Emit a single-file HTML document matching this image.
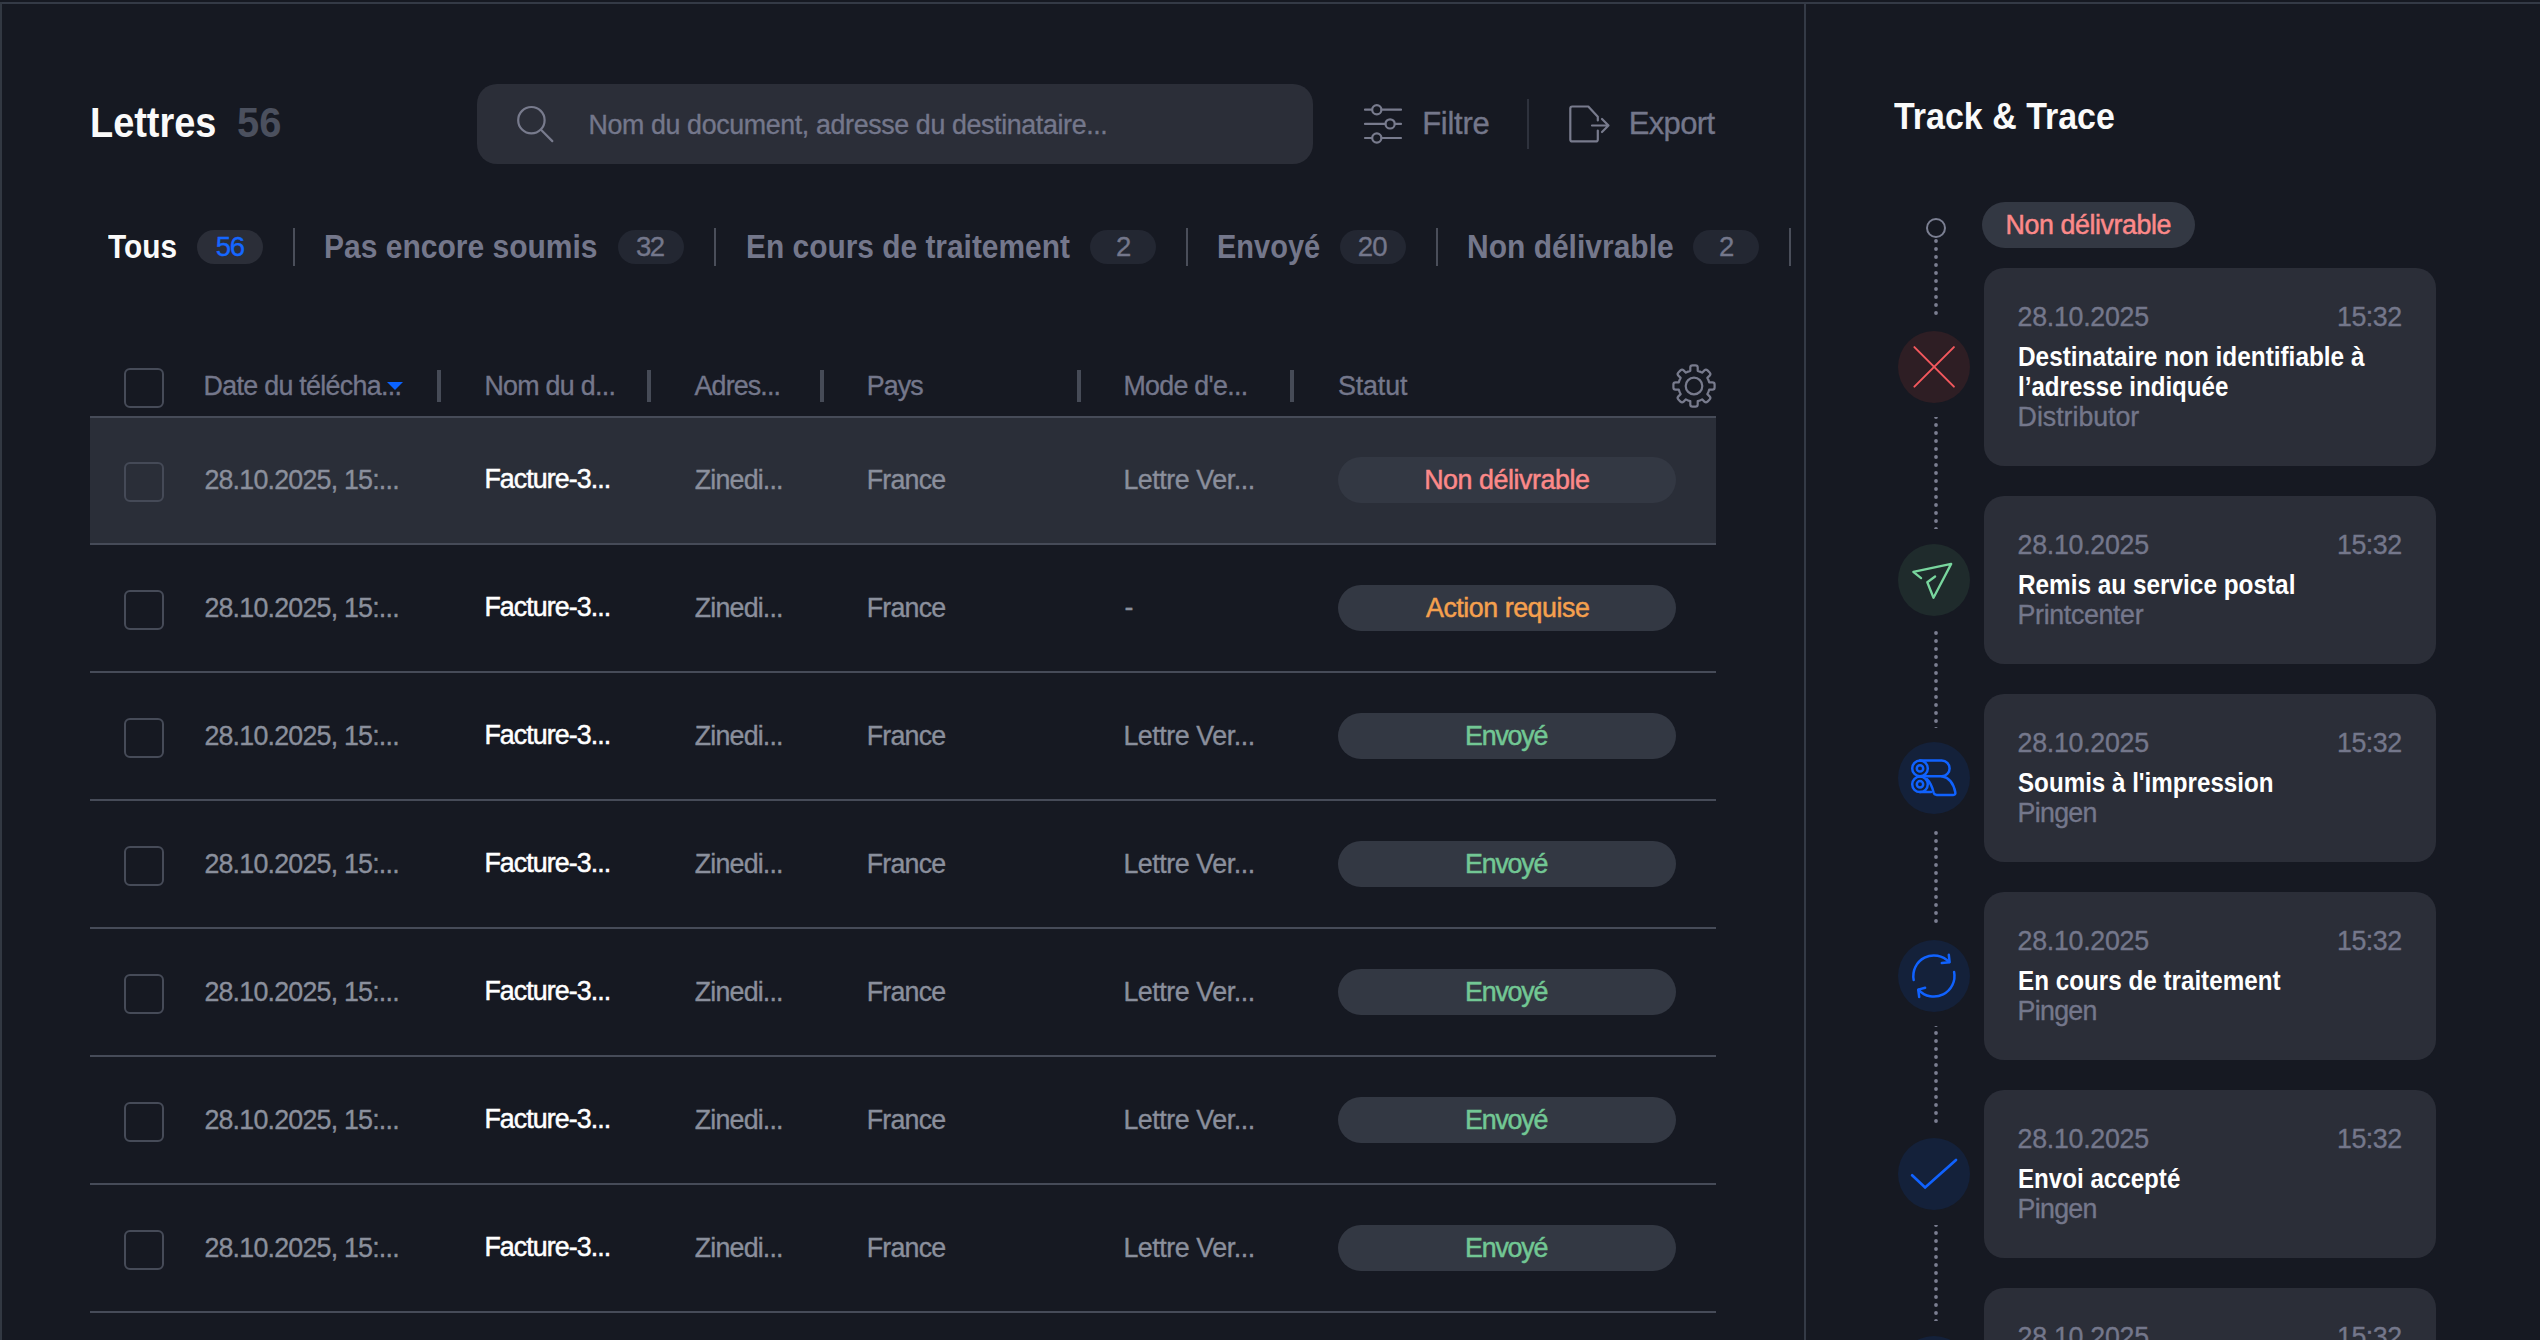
<!DOCTYPE html>
<html lang="fr">
<head>
<meta charset="utf-8">
<title>Lettres</title>
<style>
*{box-sizing:border-box;margin:0;padding:0}
html,body{width:2540px;height:1340px;overflow:hidden;background:#161922}
body{position:relative;font-family:"Liberation Sans",sans-serif;color:#fff}
.abs,.t{position:absolute}
.t{white-space:nowrap;line-height:1}
.badge{position:absolute;top:230px;width:66px;height:34px;border-radius:17px;background:#232732}
.tdiv{position:absolute;top:228px;width:2px;height:38px;background:#4a4e5a}
.cb{position:absolute;left:124px;width:40px;height:40px;border:2px solid #464b58;border-radius:6px}
.hdiv{position:absolute;top:370px;width:4px;height:32px;background:#464b57}
.row{position:absolute;left:90px;width:1626px;height:2px;background:#464b58}
.pill{position:absolute;left:1338px;width:338px;height:46px;border-radius:23px;background:#333843}
.card{position:absolute;left:1984px;width:452px;height:168px;border-radius:20px;background:#2b2e38}
.ic{position:absolute;left:1898px;width:72px;height:72px;border-radius:36px}
svg{overflow:visible}
</style>
</head>
<body>
<div class="abs" style="left:0;top:2px;width:2540px;height:2px;background:#343a46"></div>
<div class="abs" style="left:0;top:2px;width:2px;height:1338px;background:#323842"></div>
<div class="abs" style="left:1804px;top:4px;width:2px;height:1336px;background:#343a46"></div>

<!-- header -->
<div class="t" id="title" style="left:89.70px;top:102.39px;font-size:42.3px;color:#fafafa;transform:scaleX(0.8964);transform-origin:0 0;font-weight:700;">Lettres</div>
<div class="t" id="count" style="left:237.00px;top:102.39px;font-size:42.3px;color:#4b505e;transform:scaleX(0.9426);transform-origin:0 0;font-weight:700;">56</div>
<div class="abs" style="left:477px;top:84px;width:836px;height:80px;border-radius:20px;background:#2b2e38"></div>
<svg class="abs" style="left:510px;top:100px" width="50" height="50" viewBox="510 100 50 50" fill="none" stroke="#787b8d" stroke-width="2.2" stroke-linecap="round"><circle cx="531.4" cy="120.2" r="13.2"/><path d="M541 129.8L552.3 141.1"/></svg>
<div class="t" id="ph" style="left:588.40px;top:112.01px;font-size:26.8px;color:#74778b;letter-spacing:-0.366px;-webkit-text-stroke:0.35px currentColor;">Nom du document, adresse du destinataire...</div>
<svg class="abs" style="left:1360px;top:100px" width="50" height="50" viewBox="1360 100 50 50" fill="none" stroke="#787b8d" stroke-width="2.2" stroke-linecap="round"><path d="M1365 109.7H1372M1381.6 109.7H1401M1365 123.9H1385.3M1394.9 123.9H1401M1365 138H1372M1381.6 138H1401"/><circle cx="1376.8" cy="109.7" r="4.6"/><circle cx="1390.1" cy="123.9" r="4.6"/><circle cx="1376.8" cy="138" r="4.6"/></svg>
<div class="t" id="filtre" style="left:1422.20px;top:108.46px;font-size:31px;color:#74778b;letter-spacing:-0.280px;-webkit-text-stroke:0.35px currentColor;">Filtre</div>
<div class="abs" style="left:1527px;top:99px;width:2px;height:50px;background:#2e323d"></div>
<svg class="abs" style="left:1560px;top:100px" width="56" height="50" viewBox="1560 100 56 50" fill="none" stroke="#787b8d" stroke-width="2.2" stroke-linecap="round" stroke-linejoin="round"><path d="M1597.8 120.5V116.8L1588.3 106.5H1572.3a2 2 0 0 0-2 2V139.4a2 2 0 0 0 2 2H1595.8a2 2 0 0 0 2-2V130.5"/><path d="M1592 125.5H1608.5M1602 119L1608.5 125.5L1602 132"/></svg>
<div class="t" id="export" style="left:1628.80px;top:108.46px;font-size:31px;color:#74778b;letter-spacing:-0.680px;-webkit-text-stroke:0.35px currentColor;">Export</div>
<!-- tabs -->
<div class="t" id="tab1" style="left:108.20px;top:229.74px;font-size:33.5px;color:#fafafa;transform:scaleX(0.8895);transform-origin:0 0;font-weight:700;">Tous</div>
<div class="badge" style="left:197px;background:#2b2e38"></div>
<div class="tdiv" style="left:293px"></div>
<div class="t" id="tab2" style="left:324.00px;top:229.74px;font-size:33.5px;color:#74778b;transform:scaleX(0.8957);transform-origin:0 0;font-weight:700;">Pas encore soumis</div>
<div class="badge" style="left:618px"></div>
<div class="tdiv" style="left:714px"></div>
<div class="t" id="tab3" style="left:745.60px;top:229.74px;font-size:33.5px;color:#74778b;transform:scaleX(0.8923);transform-origin:0 0;font-weight:700;">En cours de traitement</div>
<div class="badge" style="left:1090px"></div>
<div class="tdiv" style="left:1186px"></div>
<div class="t" id="tab4" style="left:1217.20px;top:229.74px;font-size:33.5px;color:#74778b;transform:scaleX(0.8656);transform-origin:0 0;font-weight:700;">Envoyé</div>
<div class="badge" style="left:1340px"></div>
<div class="tdiv" style="left:1436px"></div>
<div class="t" id="tab5" style="left:1466.80px;top:229.74px;font-size:33.5px;color:#74778b;transform:scaleX(0.8952);transform-origin:0 0;font-weight:700;">Non délivrable</div>
<div class="badge" style="left:1693px"></div>
<div class="tdiv" style="left:1789px"></div>
<div class="t" id="b1" style="left:215.80px;top:233.44px;font-size:27.6px;color:#1567ff;letter-spacing:-1.500px;-webkit-text-stroke:0.35px currentColor;">56</div>
<div class="t" id="b2" style="left:636.00px;top:233.44px;font-size:27.6px;color:#74778b;letter-spacing:-1.600px;-webkit-text-stroke:0.35px currentColor;">32</div>
<div class="t" id="b3" style="left:1116.00px;top:233.44px;font-size:27.6px;color:#74778b;-webkit-text-stroke:0.35px currentColor;">2</div>
<div class="t" id="b4" style="left:1357.80px;top:233.44px;font-size:27.6px;color:#74778b;letter-spacing:-0.800px;-webkit-text-stroke:0.35px currentColor;">20</div>
<div class="t" id="b5" style="left:1719.00px;top:233.44px;font-size:27.6px;color:#74778b;-webkit-text-stroke:0.35px currentColor;">2</div>
<!-- table header -->
<div class="cb" style="top:368px"></div>
<div class="t" id="th1" style="left:203.60px;top:373.31px;font-size:26.8px;color:#74778b;letter-spacing:-0.693px;-webkit-text-stroke:0.35px currentColor;">Date du télécha...</div>
<svg class="abs" style="left:387px;top:382px" width="16" height="8" viewBox="0 0 16 8"><path d="M0 0H16L8 8Z" fill="#0b63ff"/></svg>
<div class="hdiv" style="left:437px"></div>
<div class="hdiv" style="left:647px"></div>
<div class="hdiv" style="left:820px"></div>
<div class="hdiv" style="left:1077px"></div>
<div class="hdiv" style="left:1290px"></div>
<div class="t" id="th2" style="left:484.40px;top:373.31px;font-size:26.8px;color:#74778b;letter-spacing:-0.700px;-webkit-text-stroke:0.35px currentColor;">Nom du d...</div>
<div class="t" id="th3" style="left:694.60px;top:373.31px;font-size:26.8px;color:#74778b;letter-spacing:-0.858px;-webkit-text-stroke:0.35px currentColor;">Adres...</div>
<div class="t" id="th4" style="left:866.80px;top:373.31px;font-size:26.8px;color:#74778b;letter-spacing:-0.933px;-webkit-text-stroke:0.35px currentColor;">Pays</div>
<div class="t" id="th5" style="left:1123.40px;top:373.31px;font-size:26.8px;color:#74778b;letter-spacing:-0.700px;-webkit-text-stroke:0.35px currentColor;">Mode d'e...</div>
<div class="t" id="th6" style="left:1338.00px;top:373.31px;font-size:26.8px;color:#74778b;letter-spacing:-0.120px;-webkit-text-stroke:0.35px currentColor;">Statut</div>
<svg class="abs" style="left:1668px;top:360px" width="52" height="52" viewBox="1668 360 52 52" fill="none" stroke="#787b8d" stroke-width="2.2" stroke-linejoin="round"><circle cx="1694" cy="386" r="8.3"/><path d="M1690.30 370.85L1690.30 367.60Q1690.30 365.40 1692.50 365.40L1695.50 365.40Q1697.70 365.40 1697.70 367.60L1697.70 370.85A15.6 15.6 0 0 1 1702.10 372.67L1704.39 370.37Q1705.95 368.82 1707.51 370.37L1709.63 372.49Q1711.18 374.05 1709.63 375.61L1707.33 377.90A15.6 15.6 0 0 1 1709.15 382.30L1712.40 382.30Q1714.60 382.30 1714.60 384.50L1714.60 387.50Q1714.60 389.70 1712.40 389.70L1709.15 389.70A15.6 15.6 0 0 1 1707.33 394.10L1709.63 396.39Q1711.18 397.95 1709.63 399.51L1707.51 401.63Q1705.95 403.18 1704.39 401.63L1702.10 399.33A15.6 15.6 0 0 1 1697.70 401.15L1697.70 404.40Q1697.70 406.60 1695.50 406.60L1692.50 406.60Q1690.30 406.60 1690.30 404.40L1690.30 401.15A15.6 15.6 0 0 1 1685.90 399.33L1683.61 401.63Q1682.05 403.18 1680.49 401.63L1678.37 399.51Q1676.82 397.95 1678.37 396.39L1680.67 394.10A15.6 15.6 0 0 1 1678.85 389.70L1675.60 389.70Q1673.40 389.70 1673.40 387.50L1673.40 384.50Q1673.40 382.30 1675.60 382.30L1678.85 382.30A15.6 15.6 0 0 1 1680.67 377.90L1678.37 375.61Q1676.82 374.05 1678.37 372.49L1680.49 370.37Q1682.05 368.82 1683.61 370.37L1685.90 372.67A15.6 15.6 0 0 1 1690.30 370.85Z"/></svg>
<!-- rows -->
<div class="abs" style="left:90px;top:416px;width:1626px;height:129px;background:#2a2e38;border-top:2px solid #464b58;border-bottom:2px solid #464b58"></div>
<div class="cb" style="top:462px;border-color:#454a57"></div>
<div class="t" id="c_date_0" style="left:204.40px;top:467.31px;font-size:26.8px;color:#8a8f9c;letter-spacing:-0.787px;-webkit-text-stroke:0.35px currentColor;">28.10.2025, 15:...</div>
<div class="t" id="c_fact_0" style="left:484.40px;top:466.31px;font-size:26.8px;color:#fff;letter-spacing:-0.926px;-webkit-text-stroke:0.5px currentColor;">Facture-3...</div>
<div class="t" id="c_zin_0" style="left:694.80px;top:467.31px;font-size:26.8px;color:#8a8f9c;letter-spacing:-0.825px;-webkit-text-stroke:0.35px currentColor;">Zinedi...</div>
<div class="t" id="c_fr_0" style="left:866.80px;top:467.31px;font-size:26.8px;color:#8a8f9c;letter-spacing:-0.800px;-webkit-text-stroke:0.35px currentColor;">France</div>
<div class="t" id="c_let_0" style="left:1123.40px;top:467.31px;font-size:26.8px;color:#8a8f9c;letter-spacing:-0.434px;-webkit-text-stroke:0.35px currentColor;">Lettre Ver...</div>
<div class="pill" style="top:457px"></div>
<div class="t" id="p_red_0" style="left:1424.20px;top:467.31px;font-size:26.8px;color:#fc8989;letter-spacing:-0.431px;-webkit-text-stroke:0.5px currentColor;">Non délivrable</div>
<div class="row" style="top:671px"></div>
<div class="cb" style="top:590px;border-color:#464b58"></div>
<div class="t" id="c_date_1" style="left:204.40px;top:595.31px;font-size:26.8px;color:#8a8f9c;letter-spacing:-0.787px;-webkit-text-stroke:0.35px currentColor;">28.10.2025, 15:...</div>
<div class="t" id="c_fact_1" style="left:484.40px;top:594.31px;font-size:26.8px;color:#fff;letter-spacing:-0.926px;-webkit-text-stroke:0.5px currentColor;">Facture-3...</div>
<div class="t" id="c_zin_1" style="left:694.80px;top:595.31px;font-size:26.8px;color:#8a8f9c;letter-spacing:-0.825px;-webkit-text-stroke:0.35px currentColor;">Zinedi...</div>
<div class="t" id="c_fr_1" style="left:866.80px;top:595.31px;font-size:26.8px;color:#8a8f9c;letter-spacing:-0.800px;-webkit-text-stroke:0.35px currentColor;">France</div>
<div class="t" id="c_dash_1" style="left:1124.40px;top:594.31px;font-size:26.8px;color:#8a8f9c;-webkit-text-stroke:0.35px currentColor;">-</div>
<div class="pill" style="top:585px"></div>
<div class="t" id="p_or_1" style="left:1426.00px;top:595.31px;font-size:26.8px;color:#f5a04e;letter-spacing:-0.462px;-webkit-text-stroke:0.5px currentColor;">Action requise</div>
<div class="row" style="top:799px"></div>
<div class="cb" style="top:718px;border-color:#464b58"></div>
<div class="t" id="c_date_2" style="left:204.40px;top:723.31px;font-size:26.8px;color:#8a8f9c;letter-spacing:-0.787px;-webkit-text-stroke:0.35px currentColor;">28.10.2025, 15:...</div>
<div class="t" id="c_fact_2" style="left:484.40px;top:722.31px;font-size:26.8px;color:#fff;letter-spacing:-0.926px;-webkit-text-stroke:0.5px currentColor;">Facture-3...</div>
<div class="t" id="c_zin_2" style="left:694.80px;top:723.31px;font-size:26.8px;color:#8a8f9c;letter-spacing:-0.825px;-webkit-text-stroke:0.35px currentColor;">Zinedi...</div>
<div class="t" id="c_fr_2" style="left:866.80px;top:723.31px;font-size:26.8px;color:#8a8f9c;letter-spacing:-0.800px;-webkit-text-stroke:0.35px currentColor;">France</div>
<div class="t" id="c_let_2" style="left:1123.40px;top:723.31px;font-size:26.8px;color:#8a8f9c;letter-spacing:-0.434px;-webkit-text-stroke:0.35px currentColor;">Lettre Ver...</div>
<div class="pill" style="top:713px"></div>
<div class="t" id="p_gr_2" style="left:1465.00px;top:723.31px;font-size:26.8px;color:#72c794;letter-spacing:-1.200px;-webkit-text-stroke:0.5px currentColor;">Envoyé</div>
<div class="row" style="top:927px"></div>
<div class="cb" style="top:846px;border-color:#464b58"></div>
<div class="t" id="c_date_3" style="left:204.40px;top:851.31px;font-size:26.8px;color:#8a8f9c;letter-spacing:-0.787px;-webkit-text-stroke:0.35px currentColor;">28.10.2025, 15:...</div>
<div class="t" id="c_fact_3" style="left:484.40px;top:850.31px;font-size:26.8px;color:#fff;letter-spacing:-0.926px;-webkit-text-stroke:0.5px currentColor;">Facture-3...</div>
<div class="t" id="c_zin_3" style="left:694.80px;top:851.31px;font-size:26.8px;color:#8a8f9c;letter-spacing:-0.825px;-webkit-text-stroke:0.35px currentColor;">Zinedi...</div>
<div class="t" id="c_fr_3" style="left:866.80px;top:851.31px;font-size:26.8px;color:#8a8f9c;letter-spacing:-0.800px;-webkit-text-stroke:0.35px currentColor;">France</div>
<div class="t" id="c_let_3" style="left:1123.40px;top:851.31px;font-size:26.8px;color:#8a8f9c;letter-spacing:-0.434px;-webkit-text-stroke:0.35px currentColor;">Lettre Ver...</div>
<div class="pill" style="top:841px"></div>
<div class="t" id="p_gr_3" style="left:1465.00px;top:851.31px;font-size:26.8px;color:#72c794;letter-spacing:-1.200px;-webkit-text-stroke:0.5px currentColor;">Envoyé</div>
<div class="row" style="top:1055px"></div>
<div class="cb" style="top:974px;border-color:#464b58"></div>
<div class="t" id="c_date_4" style="left:204.40px;top:979.31px;font-size:26.8px;color:#8a8f9c;letter-spacing:-0.787px;-webkit-text-stroke:0.35px currentColor;">28.10.2025, 15:...</div>
<div class="t" id="c_fact_4" style="left:484.40px;top:978.31px;font-size:26.8px;color:#fff;letter-spacing:-0.926px;-webkit-text-stroke:0.5px currentColor;">Facture-3...</div>
<div class="t" id="c_zin_4" style="left:694.80px;top:979.31px;font-size:26.8px;color:#8a8f9c;letter-spacing:-0.825px;-webkit-text-stroke:0.35px currentColor;">Zinedi...</div>
<div class="t" id="c_fr_4" style="left:866.80px;top:979.31px;font-size:26.8px;color:#8a8f9c;letter-spacing:-0.800px;-webkit-text-stroke:0.35px currentColor;">France</div>
<div class="t" id="c_let_4" style="left:1123.40px;top:979.31px;font-size:26.8px;color:#8a8f9c;letter-spacing:-0.434px;-webkit-text-stroke:0.35px currentColor;">Lettre Ver...</div>
<div class="pill" style="top:969px"></div>
<div class="t" id="p_gr_4" style="left:1465.00px;top:979.31px;font-size:26.8px;color:#72c794;letter-spacing:-1.200px;-webkit-text-stroke:0.5px currentColor;">Envoyé</div>
<div class="row" style="top:1183px"></div>
<div class="cb" style="top:1102px;border-color:#464b58"></div>
<div class="t" id="c_date_5" style="left:204.40px;top:1107.31px;font-size:26.8px;color:#8a8f9c;letter-spacing:-0.787px;-webkit-text-stroke:0.35px currentColor;">28.10.2025, 15:...</div>
<div class="t" id="c_fact_5" style="left:484.40px;top:1106.31px;font-size:26.8px;color:#fff;letter-spacing:-0.926px;-webkit-text-stroke:0.5px currentColor;">Facture-3...</div>
<div class="t" id="c_zin_5" style="left:694.80px;top:1107.31px;font-size:26.8px;color:#8a8f9c;letter-spacing:-0.825px;-webkit-text-stroke:0.35px currentColor;">Zinedi...</div>
<div class="t" id="c_fr_5" style="left:866.80px;top:1107.31px;font-size:26.8px;color:#8a8f9c;letter-spacing:-0.800px;-webkit-text-stroke:0.35px currentColor;">France</div>
<div class="t" id="c_let_5" style="left:1123.40px;top:1107.31px;font-size:26.8px;color:#8a8f9c;letter-spacing:-0.434px;-webkit-text-stroke:0.35px currentColor;">Lettre Ver...</div>
<div class="pill" style="top:1097px"></div>
<div class="t" id="p_gr_5" style="left:1465.00px;top:1107.31px;font-size:26.8px;color:#72c794;letter-spacing:-1.200px;-webkit-text-stroke:0.5px currentColor;">Envoyé</div>
<div class="row" style="top:1311px"></div>
<div class="cb" style="top:1230px;border-color:#464b58"></div>
<div class="t" id="c_date_6" style="left:204.40px;top:1235.31px;font-size:26.8px;color:#8a8f9c;letter-spacing:-0.787px;-webkit-text-stroke:0.35px currentColor;">28.10.2025, 15:...</div>
<div class="t" id="c_fact_6" style="left:484.40px;top:1234.31px;font-size:26.8px;color:#fff;letter-spacing:-0.926px;-webkit-text-stroke:0.5px currentColor;">Facture-3...</div>
<div class="t" id="c_zin_6" style="left:694.80px;top:1235.31px;font-size:26.8px;color:#8a8f9c;letter-spacing:-0.825px;-webkit-text-stroke:0.35px currentColor;">Zinedi...</div>
<div class="t" id="c_fr_6" style="left:866.80px;top:1235.31px;font-size:26.8px;color:#8a8f9c;letter-spacing:-0.800px;-webkit-text-stroke:0.35px currentColor;">France</div>
<div class="t" id="c_let_6" style="left:1123.40px;top:1235.31px;font-size:26.8px;color:#8a8f9c;letter-spacing:-0.434px;-webkit-text-stroke:0.35px currentColor;">Lettre Ver...</div>
<div class="pill" style="top:1225px"></div>
<div class="t" id="p_gr_6" style="left:1465.00px;top:1235.31px;font-size:26.8px;color:#72c794;letter-spacing:-1.200px;-webkit-text-stroke:0.5px currentColor;">Envoyé</div>
<!-- side panel -->
<div class="t" id="tt" style="left:1894.40px;top:98.07px;font-size:37.6px;color:#fafafa;transform:scaleX(0.9037);transform-origin:0 0;font-weight:700;">Track &amp; Trace</div>
<div class="abs" style="left:1926px;top:218px;width:20px;height:20px;border-radius:10px;border:2px solid #7b7f92"></div>
<div class="abs" style="left:1982px;top:202px;width:213px;height:46px;border-radius:23px;background:#333843"></div>
<div class="t" id="ndp" style="left:2005.60px;top:211.51px;font-size:26.8px;color:#fc8989;letter-spacing:-0.416px;-webkit-text-stroke:0.5px currentColor;">Non délivrable</div>
<svg class="abs" style="left:1930px;top:238px" width="12" height="78" viewBox="1930 238 12 78"><circle cx="1936" cy="241" r="1.9" fill="#7b7e91"/><circle cx="1936" cy="249" r="1.9" fill="#7b7e91"/><circle cx="1936" cy="257" r="1.9" fill="#7b7e91"/><circle cx="1936" cy="265" r="1.9" fill="#7b7e91"/><circle cx="1936" cy="273" r="1.9" fill="#7b7e91"/><circle cx="1936" cy="281" r="1.9" fill="#7b7e91"/><circle cx="1936" cy="289" r="1.9" fill="#7b7e91"/><circle cx="1936" cy="297" r="1.9" fill="#7b7e91"/><circle cx="1936" cy="305" r="1.9" fill="#7b7e91"/><circle cx="1936" cy="313" r="1.9" fill="#7b7e91"/></svg>
<svg class="abs" style="left:1930px;top:417px;overflow:hidden" width="12" height="112" viewBox="1930 417 12 112"><circle cx="1936" cy="417" r="1.9" fill="#7b7e91"/><circle cx="1936" cy="425" r="1.9" fill="#7b7e91"/><circle cx="1936" cy="433" r="1.9" fill="#7b7e91"/><circle cx="1936" cy="441" r="1.9" fill="#7b7e91"/><circle cx="1936" cy="449" r="1.9" fill="#7b7e91"/><circle cx="1936" cy="457" r="1.9" fill="#7b7e91"/><circle cx="1936" cy="465" r="1.9" fill="#7b7e91"/><circle cx="1936" cy="473" r="1.9" fill="#7b7e91"/><circle cx="1936" cy="481" r="1.9" fill="#7b7e91"/><circle cx="1936" cy="489" r="1.9" fill="#7b7e91"/><circle cx="1936" cy="497" r="1.9" fill="#7b7e91"/><circle cx="1936" cy="505" r="1.9" fill="#7b7e91"/><circle cx="1936" cy="513" r="1.9" fill="#7b7e91"/><circle cx="1936" cy="521" r="1.9" fill="#7b7e91"/><circle cx="1936" cy="529" r="1.9" fill="#7b7e91"/></svg>
<svg class="abs" style="left:1930px;top:630px;overflow:hidden" width="12" height="98" viewBox="1930 630 12 98"><circle cx="1936" cy="633" r="1.9" fill="#7b7e91"/><circle cx="1936" cy="641" r="1.9" fill="#7b7e91"/><circle cx="1936" cy="649" r="1.9" fill="#7b7e91"/><circle cx="1936" cy="657" r="1.9" fill="#7b7e91"/><circle cx="1936" cy="665" r="1.9" fill="#7b7e91"/><circle cx="1936" cy="673" r="1.9" fill="#7b7e91"/><circle cx="1936" cy="681" r="1.9" fill="#7b7e91"/><circle cx="1936" cy="689" r="1.9" fill="#7b7e91"/><circle cx="1936" cy="697" r="1.9" fill="#7b7e91"/><circle cx="1936" cy="705" r="1.9" fill="#7b7e91"/><circle cx="1936" cy="713" r="1.9" fill="#7b7e91"/><circle cx="1936" cy="721" r="1.9" fill="#7b7e91"/><circle cx="1936" cy="729" r="1.9" fill="#7b7e91"/></svg>
<svg class="abs" style="left:1930px;top:830px" width="12" height="94" viewBox="1930 830 12 94"><circle cx="1936" cy="833" r="1.9" fill="#7b7e91"/><circle cx="1936" cy="841" r="1.9" fill="#7b7e91"/><circle cx="1936" cy="849" r="1.9" fill="#7b7e91"/><circle cx="1936" cy="857" r="1.9" fill="#7b7e91"/><circle cx="1936" cy="865" r="1.9" fill="#7b7e91"/><circle cx="1936" cy="873" r="1.9" fill="#7b7e91"/><circle cx="1936" cy="881" r="1.9" fill="#7b7e91"/><circle cx="1936" cy="889" r="1.9" fill="#7b7e91"/><circle cx="1936" cy="897" r="1.9" fill="#7b7e91"/><circle cx="1936" cy="905" r="1.9" fill="#7b7e91"/><circle cx="1936" cy="913" r="1.9" fill="#7b7e91"/><circle cx="1936" cy="921" r="1.9" fill="#7b7e91"/></svg>
<svg class="abs" style="left:1930px;top:1026px;overflow:hidden" width="12" height="99" viewBox="1930 1026 12 99"><circle cx="1936" cy="1025" r="1.9" fill="#7b7e91"/><circle cx="1936" cy="1033" r="1.9" fill="#7b7e91"/><circle cx="1936" cy="1041" r="1.9" fill="#7b7e91"/><circle cx="1936" cy="1049" r="1.9" fill="#7b7e91"/><circle cx="1936" cy="1057" r="1.9" fill="#7b7e91"/><circle cx="1936" cy="1065" r="1.9" fill="#7b7e91"/><circle cx="1936" cy="1073" r="1.9" fill="#7b7e91"/><circle cx="1936" cy="1081" r="1.9" fill="#7b7e91"/><circle cx="1936" cy="1089" r="1.9" fill="#7b7e91"/><circle cx="1936" cy="1097" r="1.9" fill="#7b7e91"/><circle cx="1936" cy="1105" r="1.9" fill="#7b7e91"/><circle cx="1936" cy="1113" r="1.9" fill="#7b7e91"/><circle cx="1936" cy="1121" r="1.9" fill="#7b7e91"/></svg>
<svg class="abs" style="left:1930px;top:1225px;overflow:hidden" width="12" height="96" viewBox="1930 1225 12 96"><circle cx="1936" cy="1225" r="1.9" fill="#7b7e91"/><circle cx="1936" cy="1233" r="1.9" fill="#7b7e91"/><circle cx="1936" cy="1241" r="1.9" fill="#7b7e91"/><circle cx="1936" cy="1249" r="1.9" fill="#7b7e91"/><circle cx="1936" cy="1257" r="1.9" fill="#7b7e91"/><circle cx="1936" cy="1265" r="1.9" fill="#7b7e91"/><circle cx="1936" cy="1273" r="1.9" fill="#7b7e91"/><circle cx="1936" cy="1281" r="1.9" fill="#7b7e91"/><circle cx="1936" cy="1289" r="1.9" fill="#7b7e91"/><circle cx="1936" cy="1297" r="1.9" fill="#7b7e91"/><circle cx="1936" cy="1305" r="1.9" fill="#7b7e91"/><circle cx="1936" cy="1313" r="1.9" fill="#7b7e91"/><circle cx="1936" cy="1321" r="1.9" fill="#7b7e91"/></svg>
<div class="card" style="top:268px;height:198px"></div>
<div class="t" id="k_date_0" style="left:2017.60px;top:304.01px;font-size:26.8px;color:#74778b;letter-spacing:-0.289px;-webkit-text-stroke:0.35px currentColor;">28.10.2025</div>
<div class="t" id="k_time_0" style="left:2337.00px;top:304.01px;font-size:26.8px;color:#74778b;letter-spacing:-0.500px;-webkit-text-stroke:0.35px currentColor;">15:32</div>
<div class="t" id="k_t1_0" style="left:2017.60px;top:343.71px;font-size:26.8px;color:#fff;transform:scaleX(0.9088);transform-origin:0 0;font-weight:700;">Destinataire non identifiable à</div>
<div class="t" id="k_t2_0" style="left:2017.60px;top:374.31px;font-size:26.8px;color:#fff;transform:scaleX(0.8996);transform-origin:0 0;font-weight:700;">l’adresse indiquée</div>
<div class="t" id="k_s1_0" style="left:2017.60px;top:404.31px;font-size:26.8px;color:#74778b;letter-spacing:-0.040px;-webkit-text-stroke:0.35px currentColor;">Distributor</div>
<div class="card" style="top:496px;height:168px"></div>
<div class="t" id="k_date_1" style="left:2017.60px;top:532.01px;font-size:26.8px;color:#74778b;letter-spacing:-0.289px;-webkit-text-stroke:0.35px currentColor;">28.10.2025</div>
<div class="t" id="k_time_1" style="left:2337.00px;top:532.01px;font-size:26.8px;color:#74778b;letter-spacing:-0.500px;-webkit-text-stroke:0.35px currentColor;">15:32</div>
<div class="t" id="k_t_remis_1" style="left:2017.60px;top:571.71px;font-size:26.8px;color:#fff;transform:scaleX(0.9085);transform-origin:0 0;font-weight:700;">Remis au service postal</div>
<div class="t" id="k_s_print_1" style="left:2017.60px;top:602.31px;font-size:26.8px;color:#74778b;letter-spacing:-0.360px;-webkit-text-stroke:0.35px currentColor;">Printcenter</div>
<div class="card" style="top:694px;height:168px"></div>
<div class="t" id="k_date_2" style="left:2017.60px;top:730.01px;font-size:26.8px;color:#74778b;letter-spacing:-0.289px;-webkit-text-stroke:0.35px currentColor;">28.10.2025</div>
<div class="t" id="k_time_2" style="left:2337.00px;top:730.01px;font-size:26.8px;color:#74778b;letter-spacing:-0.500px;-webkit-text-stroke:0.35px currentColor;">15:32</div>
<div class="t" id="k_t_soumis_2" style="left:2017.60px;top:769.71px;font-size:26.8px;color:#fff;transform:scaleX(0.9018);transform-origin:0 0;font-weight:700;">Soumis à l'impression</div>
<div class="t" id="k_s_pingen_2" style="left:2017.60px;top:800.31px;font-size:26.8px;color:#74778b;letter-spacing:-0.720px;-webkit-text-stroke:0.35px currentColor;">Pingen</div>
<div class="card" style="top:892px;height:168px"></div>
<div class="t" id="k_date_3" style="left:2017.60px;top:928.01px;font-size:26.8px;color:#74778b;letter-spacing:-0.289px;-webkit-text-stroke:0.35px currentColor;">28.10.2025</div>
<div class="t" id="k_time_3" style="left:2337.00px;top:928.01px;font-size:26.8px;color:#74778b;letter-spacing:-0.500px;-webkit-text-stroke:0.35px currentColor;">15:32</div>
<div class="t" id="k_t_encours_3" style="left:2017.60px;top:967.71px;font-size:26.8px;color:#fff;transform:scaleX(0.9042);transform-origin:0 0;font-weight:700;">En cours de traitement</div>
<div class="t" id="k_s_pingen_3" style="left:2017.60px;top:998.31px;font-size:26.8px;color:#74778b;letter-spacing:-0.720px;-webkit-text-stroke:0.35px currentColor;">Pingen</div>
<div class="card" style="top:1090px;height:168px"></div>
<div class="t" id="k_date_4" style="left:2017.60px;top:1126.01px;font-size:26.8px;color:#74778b;letter-spacing:-0.289px;-webkit-text-stroke:0.35px currentColor;">28.10.2025</div>
<div class="t" id="k_time_4" style="left:2337.00px;top:1126.01px;font-size:26.8px;color:#74778b;letter-spacing:-0.500px;-webkit-text-stroke:0.35px currentColor;">15:32</div>
<div class="t" id="k_t_envoi_4" style="left:2017.60px;top:1165.71px;font-size:26.8px;color:#fff;transform:scaleX(0.9007);transform-origin:0 0;font-weight:700;">Envoi accepté</div>
<div class="t" id="k_s_pingen_4" style="left:2017.60px;top:1196.31px;font-size:26.8px;color:#74778b;letter-spacing:-0.720px;-webkit-text-stroke:0.35px currentColor;">Pingen</div>
<div class="card" style="top:1288px;height:168px"></div>
<div class="t" id="k_date_5" style="left:2017.60px;top:1324.01px;font-size:26.8px;color:#74778b;letter-spacing:-0.289px;-webkit-text-stroke:0.35px currentColor;">28.10.2025</div>
<div class="t" id="k_time_5" style="left:2337.00px;top:1324.01px;font-size:26.8px;color:#74778b;letter-spacing:-0.500px;-webkit-text-stroke:0.35px currentColor;">15:32</div>
<div class="t" id="k_t_tele_5" style="left:2018.90px;top:1363.71px;font-size:26.8px;color:#fff;font-weight:700;">Téléversé</div>
<div class="t" id="k_s_pingen_5" style="left:2017.60px;top:1394.31px;font-size:26.8px;color:#74778b;letter-spacing:-0.720px;-webkit-text-stroke:0.35px currentColor;">Pingen</div>
<div class="ic" style="top:331px;background:#2e1e24"></div>
<svg class="abs" style="left:1898px;top:331px" width="72" height="72" viewBox="1898 331 72 72" fill="none" stroke="#f4585d" stroke-width="2" stroke-linecap="round"><path d="M1914.4 347.1L1953.9 386.6M1953.9 347.1L1914.4 386.6"/></svg>
<div class="ic" style="top:544px;background:#1f2b2c"></div>
<svg class="abs" style="left:1898px;top:544px" width="72" height="72" viewBox="1898 544 72 72" fill="none" stroke="#78d69e" stroke-width="2.3" stroke-linecap="round" stroke-linejoin="round"><path d="M1921.1 578.1L1913.3 571.9L1951.2 563.9L1933.5 597.7L1927.3 582.2L1935.1 576.5"/></svg>
<div class="ic" style="top:742px;background:#14213a"></div>
<svg class="abs" style="left:1898px;top:742px" width="72" height="72" viewBox="1898 742 72 72" fill="none" stroke="#1062fe" stroke-width="2.5" stroke-linecap="round" stroke-linejoin="round"><circle cx="1920" cy="768.4" r="3.2"/><circle cx="1920" cy="768.4" r="7.8"/><circle cx="1920" cy="784.3" r="3.2"/><circle cx="1920" cy="784.3" r="7.8"/><path d="M1920 760.6H1941.8a7.8 7.8 0 0 1 0 15.6H1920"/><path d="M1941.8 776.2C1949 777.5 1953.6 783.5 1955.3 792.3Q1955.8 794.9 1953.2 794.9H1936.8Q1934.2 794.9 1933.5 792.3C1932.2 787 1930.2 782.3 1927 779.2"/><path d="M1920 792.1H1931"/></svg>
<div class="ic" style="top:940px;background:#14213a"></div>
<svg class="abs" style="left:1898px;top:940px" width="72" height="72" viewBox="1898 940 72 72" fill="none" stroke="#1062fe" stroke-width="2.5" stroke-linecap="round" stroke-linejoin="round"><path d="M1913.7 980A20.6 20.6 0 0 1 1949 962"/><path d="M1948.8 954.8L1949.6 962.2L1941.8 963.1"/><path d="M1954.1 972A20.6 20.6 0 0 1 1918.6 989.8"/><path d="M1925.1 987.8L1918.2 989.6L1919.2 997"/></svg>
<div class="ic" style="top:1138px;background:#14213a"></div>
<svg class="abs" style="left:1898px;top:1138px" width="72" height="72" viewBox="1898 1138 72 72" fill="none" stroke="#1062fe" stroke-width="2.7" stroke-linecap="round" stroke-linejoin="miter"><path d="M1912.1 1175.3L1925.1 1187.4L1956 1160"/></svg>
<div class="ic" style="top:1336px;background:#14213a"></div>
</body>
</html>
